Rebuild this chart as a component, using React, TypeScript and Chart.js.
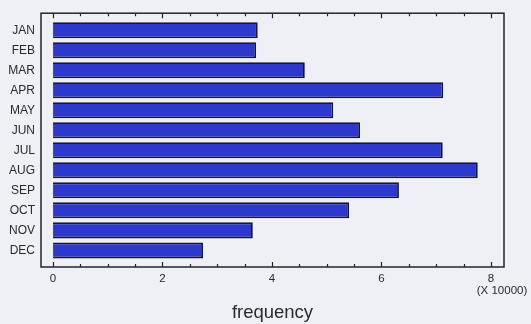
import React, { useEffect, useRef } from "react";
import { Chart, registerables } from "chart.js";

Chart.register(...registerables);

const months = ["JAN", "FEB", "MAR", "APR", "MAY", "JUN", "JUL", "AUG", "SEP", "OCT", "NOV", "DEC"];
const frequency = [3.74, 3.71, 4.6, 7.13, 5.12, 5.61, 7.12, 7.76, 6.32, 5.41, 3.65, 2.74];
const xMajorTicks = [0, 2, 4, 6, 8];
const xMinorTicks = [0.5, 1, 1.5, 2.5, 3, 3.5, 4.5, 5, 5.5, 6.5, 7, 7.5];
const xTitle = "frequency";
const xMultiplier = "(X 10000)";

const FONT = "'Liberation Sans', Arial, Helvetica, sans-serif";

const framePlugin = {
  id: "framePlugin",
  afterDatasetsDraw(chart: any) {
    const { ctx, chartArea } = chart;
    const xs = chart.scales.x;
    const { left, right, top, bottom } = chartArea;
    ctx.save();
    ctx.strokeStyle = "#222428";
    ctx.lineWidth = 1.5;
    ctx.strokeRect(left, top, right - left, bottom - top);
    ctx.lineWidth = 1.2;
    const drawTick = (v: number, len: number) => {
      const px = Math.round(xs.getPixelForValue(v)) + 0.5;
      ctx.beginPath();
      ctx.moveTo(px, top);
      ctx.lineTo(px, top + len);
      ctx.moveTo(px, bottom);
      ctx.lineTo(px, bottom - len);
      ctx.stroke();
    };
    xMajorTicks.forEach((v) => drawTick(v, 5));
    xMinorTicks.forEach((v) => drawTick(v, 3));
    ctx.fillStyle = "#2a2a2e";
    ctx.textAlign = "center";
    ctx.textBaseline = "middle";
    ctx.font = `11.5px ${FONT}`;
    ctx.fillText(xMultiplier, 502, 291);
    ctx.font = `18.5px ${FONT}`;
    ctx.fillText(xTitle, (left + right) / 2, 313);
    ctx.restore();
  },
};

export default function App() {
  const ref = useRef<HTMLCanvasElement>(null);
  useEffect(() => {
    document.body.style.margin = "0";
    document.body.style.background = "#eef0f5";
    const chart = new Chart(ref.current!, {
      type: "bar",
      data: {
        datasets: [
          {
            data: frequency.map((v, i) => ({ x: v, y: i })),
            backgroundColor: "#2d38cc",
            borderColor: "#141634",
            borderWidth: 1.8,
            barPercentage: 0.8,
            categoryPercentage: 1,
            base: 0,
          },
        ],
      },
      options: {
        indexAxis: "y",
        animation: false,
        responsive: false,
        maintainAspectRatio: false,
        layout: { padding: { top: 11, right: 27, left: 0, bottom: 0 } },
        plugins: { legend: { display: false }, tooltip: { enabled: false } },
        scales: {
          x: {
            type: "linear",
            min: -0.22,
            max: 8.24,
            offset: false,
            grid: { display: false, drawTicks: false },
            border: { display: false },
            afterBuildTicks: (s: any) => {
              s.ticks = xMajorTicks.map((v) => ({ value: v }));
            },
            afterFit: (s: any) => {
              s.height = 57;
            },
            ticks: {
              padding: 5,
              color: "#2a2a2e",
              font: { family: FONT, size: 11.5 },
              maxRotation: 0,
              autoSkip: false,
            },
          },
          y: {
            type: "linear",
            reverse: true,
            offset: false,
            min: -0.85,
            max: 11.83,
            grid: { display: false, drawTicks: false },
            border: { display: false },
            afterBuildTicks: (s: any) => {
              s.ticks = months.map((_, i) => ({ value: i }));
            },
            afterFit: (s: any) => {
              s.width = 41;
            },
            ticks: {
              padding: 6,
              autoSkip: false,
              color: "#2a2a2e",
              font: { family: FONT, size: 12 },
              callback: (v: any) => months[v] ?? "",
            },
          },
        },
      },
      plugins: [framePlugin],
    } as any);
    return () => chart.destroy();
  }, []);
  return (
    <div style={{ width: 531, height: 324, background: "#eef0f5" }}>
      <canvas ref={ref} width={531} height={324} style={{ display: "block" }} />
    </div>
  );
}
